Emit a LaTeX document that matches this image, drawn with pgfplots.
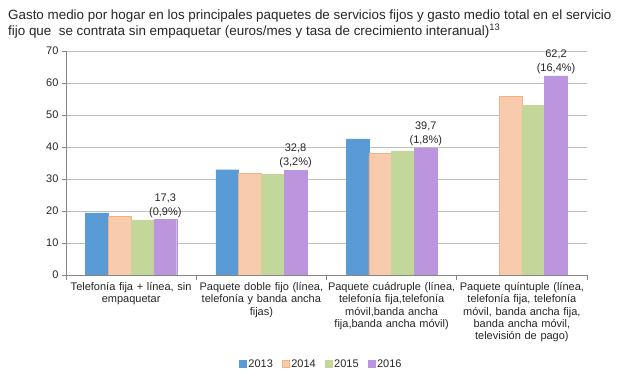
\documentclass[border=0pt]{standalone}
\usepackage{fontspec}
\setmainfont{Liberation Sans}
\usepackage{pgfplots}
\pgfplotsset{compat=1.18}
\definecolor{c13}{HTML}{5B9BD5}
\definecolor{c14}{HTML}{F8CBAD}
\definecolor{c14e}{HTML}{F4B183}
\definecolor{c15}{HTML}{C4D79B}
\definecolor{c16}{HTML}{BB96DE}
\definecolor{gridc}{HTML}{BFBFBF}
\definecolor{axc}{HTML}{868686}
\definecolor{txt}{HTML}{262626}
\begin{document}
\begin{tikzpicture}
\path[use as bounding box] (0bp,0bp) rectangle (630bp,374bp);
\node[anchor=base west, inner sep=0, text=txt, font=\fontsize{13.4bp}{15bp}\selectfont] at (8bp,354bp) {Gasto medio por hogar en los principales paquetes de servicios fijos y gasto medio total en el servicio};
\node[anchor=base west, inner sep=0, text=txt, font=\fontsize{13.4bp}{15bp}\selectfont] at (8bp,338bp) {fijo que\ \ se contrata sin empaquetar (euros/mes y tasa de crecimiento interanual)\textsuperscript{13}};
\begin{axis}[
  at={(66bp,99bp)}, anchor=south west,
  scale only axis, width=521bp, height=224bp,
  xmin=-0.5, xmax=3.5, ymin=0, ymax=70,
  ytick={0,10,...,70},
  ymajorgrids, grid style={gridc, line width=0.75bp},
  axis x line*=bottom, axis y line*=left,
  axis line style={axc, line width=0.75bp},
  tick align=outside,
  xtick={0,1,2,3},
  xticklabels={{Telefonía fija + línea, sin\\empaquetar},
    {Paquete doble fijo (línea,\\telefonía y banda ancha\\fijas)},
    {Paquete cuádruple (línea,\\telefonía fija,telefonía\\móvil,banda ancha\\fija,banda ancha móvil)},
    {Paquete quíntuple (línea,\\telefonía fija, telefonía\\móvil, banda ancha fija,\\banda ancha móvil,\\televisión de pago)}},
  major x tick style={draw=none},
  minor xtick={-0.5,0.5,1.5,2.5,3.5},
  minor tick length=5bp,
  major tick length=4bp,
  tick style={axc, line width=0.75bp},
  xticklabel style={text width=140bp, align=center, text=txt,
    font=\fontsize{11bp}{12.4bp}\selectfont, inner sep=1bp, yshift=-2bp},
  yticklabel style={text=txt, font=\fontsize{11bp}{12bp}\selectfont},
  /pgf/number format/assume math mode=true,
  ybar=0pt, bar width=0.175,
  legend style={at={(0.49,-0.397)}, anchor=center, draw=none,
    font=\fontsize{11bp}{12bp}\selectfont, text=txt,
    /tikz/every even column/.append style={column sep=7bp}},
  legend columns=4,
  legend image code/.code={\fill[#1] (0bp,-3.5bp) rectangle (7bp,3.5bp);},
]
\addplot[fill=c13, draw=c13] coordinates {(0,19.4) (1,32.9) (2,42.5)};
\addplot[fill=c14, draw=c14e] coordinates {(0,18.4) (1,31.8) (2,38.0) (3,55.8)};
\addplot[fill=c15, draw=c15] coordinates {(0,17.2) (1,31.5) (2,38.8) (3,53.0)};
\addplot[fill=c16, draw=c16, point meta=explicit symbolic,
  nodes near coords,
  nodes near coords style={align=center, text=txt, font=\fontsize{11bp}{14bp}\selectfont, inner sep=2bp}]
  coordinates {(0,17.3) [{17,3\\(0,9\%)}] (1,32.8) [{32,8\\(3,2\%)}] (2,39.7) [{39,7\\(1,8\%)}] (3,62.2) [{62,2\\(16,4\%)}]};
\legend{2013,2014,2015,2016}
\end{axis}
\end{tikzpicture}
\end{document}
